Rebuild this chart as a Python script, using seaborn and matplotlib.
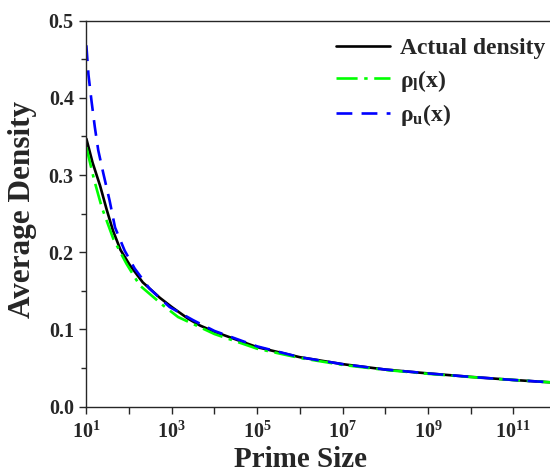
import numpy as np
import pandas as pd
import seaborn as sns
import matplotlib
matplotlib.use('Agg')
import matplotlib.pyplot as plt
from matplotlib.ticker import FixedLocator, FixedFormatter, MultipleLocator, NullFormatter

# values
actual_x = [10, 14, 21, 30, 42, 63, 105, 209, 525, 1e3, 2.4e3, 4.6e3, 1e4, 1e5, 1e6, 1e7,
            1e8, 1e9, 1e10, 1e11, 1e12]
actual_y = [0.347, 0.316, 0.286, 0.255, 0.228, 0.203, 0.183, 0.161, 0.141, 0.129, 0.114,
            0.105, 0.097, 0.077, 0.064, 0.055, 0.048, 0.043, 0.0385, 0.0345, 0.031]

lower_x = [10, 15, 23, 43, 87, 178, 630, 1.41e3, 3.16e3, 1e4, 1e5, 1e6, 1e7, 1e8, 1e9,
           1e10, 1e11, 1e12]
lower_y = [0.336, 0.295, 0.258, 0.217, 0.185, 0.157, 0.131, 0.116, 0.107, 0.094, 0.075,
           0.063, 0.054, 0.0475, 0.0425, 0.0383, 0.0345, 0.031]

upper_x = [10, 11.2, 13.2, 15.8, 19, 25, 35, 47, 79, 135, 300, 890, 3.16e3, 1e4, 1e5, 1e6,
           1e7, 1e8, 1e9, 1e10, 1e11, 1e12]
upper_y = [0.468, 0.430, 0.396, 0.362, 0.332, 0.302, 0.267, 0.232, 0.202, 0.179, 0.153,
           0.129, 0.112, 0.098, 0.078, 0.064, 0.055, 0.048, 0.043, 0.0385, 0.0345, 0.031]

x_tick_pos = [1e1, 1e3, 1e5, 1e7, 1e9, 1e11]
x_tick_labels = ['10^{1}', '10^{3}', '10^{5}', '10^{7}', '10^{9}', '10^{11}']
x_minor_pos = [1e2, 1e4, 1e6, 1e8, 1e10, 1e12]

sns.set_style('ticks')
plt.rcParams['font.family'] = ['Liberation Serif', 'DejaVu Serif']
plt.rcParams['font.weight'] = 'bold'
plt.rcParams['mathtext.fontset'] = 'custom'
plt.rcParams['mathtext.rm'] = 'Liberation Serif:bold'
plt.rcParams['mathtext.it'] = 'Liberation Serif:bold'
plt.rcParams['mathtext.bf'] = 'Liberation Serif:bold'

fig = plt.figure(figsize=(5.5, 4.75), dpi=100)
ax = fig.add_axes([0.157, 0.144, 0.854, 0.8126])

sns.lineplot(x=actual_x, y=actual_y, ax=ax, color='black', lw=1.9,
             label='Actual density')
sns.lineplot(x=lower_x, y=lower_y, ax=ax, color='#00ff00', lw=1.9,
             label=r'ρ$_{l}$(x)')
sns.lineplot(x=upper_x, y=upper_y, ax=ax, color='#0000ff', lw=1.9,
             label=r'ρ$_{u}$(x)')
ax.lines[1].set_dashes([8, 2.5, 1.3, 2.5])
ax.lines[2].set_dashes([6, 3.5])

ax.set_xscale('log')
ax.set_xlim(10, 1e12)
ax.set_ylim(0, 0.5)

ax.xaxis.set_major_locator(FixedLocator(x_tick_pos))
ax.xaxis.set_major_formatter(FixedFormatter(['$' + s + '$' for s in x_tick_labels]))
ax.xaxis.set_minor_locator(FixedLocator(x_minor_pos))
ax.xaxis.set_minor_formatter(NullFormatter())
ax.yaxis.set_major_locator(MultipleLocator(0.1))
ax.yaxis.set_minor_locator(MultipleLocator(0.05))
ax.set_yticklabels([f'{v:.1f}' for v in ax.get_yticks()])

ax.tick_params(which='major', direction='out', length=5, width=1.0, labelsize=14.5, pad=4)
ax.tick_params(axis='x', which='major', pad=6)
ax.tick_params(which='minor', direction='out', length=3.5, width=1.0)
ax.tick_params(axis='x', which='minor', length=5)
for side in ['left', 'bottom', 'top']:
    ax.spines[side].set_linewidth(1.0)
ax.spines['right'].set_visible(False)

ax.set_xlabel('Prime Size', fontsize=21, fontweight='bold')
ax.set_ylabel('Average Density', fontsize=22.5, fontweight='bold')
ax.xaxis.set_label_coords(0.455, -0.102)
ax.yaxis.set_label_coords(-0.105, 0.51)

ax.get_legend().remove()
handles, labels = ax.get_legend_handles_labels()
fig.legend(handles, labels, loc='upper right', bbox_to_anchor=(1.03, 0.965),
           frameon=False, fontsize=17, handlelength=2.3, handletextpad=0.4,
           labelspacing=0.35)

fig.savefig('out.png', dpi=100)
